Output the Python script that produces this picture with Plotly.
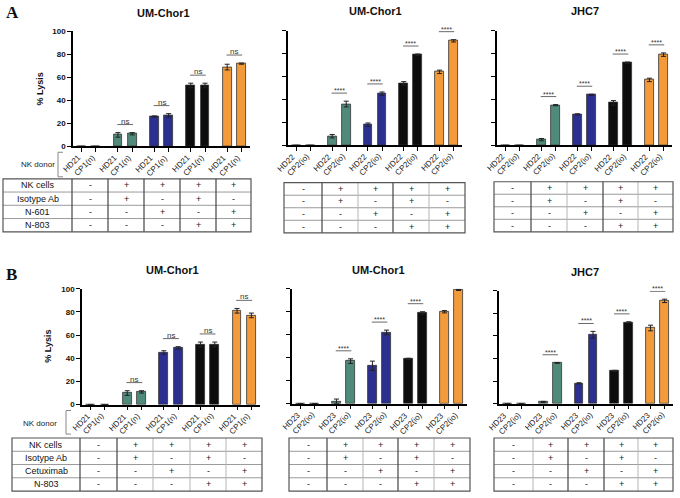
import plotly.graph_objects as go

W, H = 680, 498

# ---------------- data ----------------
pair_colors = ['#8c8c8c', '#4f8a7b', '#2b2f8f', '#0d0d0d', '#f39a3b']

a1_title = 'UM-Chor1'
a1_donors = ['HD21', 'CP1(n)']
a1_v1 = [0, 10, 26, 53, 69]
a1_v2 = [0, 11, 27, 53, 72]
a1_e1 = [0, 2, 0.5, 2, 2.5]
a1_e2 = [0, 1, 1.5, 2, 0.5]
a1_sig = ['', 'ns', 'ns', 'ns', 'ns']

a2_title = 'UM-Chor1'
a2_donors = ['HD22', 'CP2(io)']
a2_v1 = [0, 8, 18, 54, 64]
a2_v2 = [0, 36, 45, 79, 91]
a2_e1 = [0, 1.5, 1.5, 1.5, 1.5]
a2_e2 = [0, 2.5, 1.5, 0.5, 1]
a2_sig = ['', '****', '****', '****', '****']

a3_title = 'JHC7'
a3_donors = ['HD22', 'CP2(io)']
a3_v1 = [0, 5, 27, 37, 57]
a3_v2 = [0, 35, 44, 72, 79]
a3_e1 = [0, 1, 0.5, 2, 1.5]
a3_e2 = [0, 0.5, 0.5, 0.5, 1.5]
a3_sig = ['', '****', '****', '****', '****']

b1_title = 'UM-Chor1'
b1_donors = ['HD21', 'CP1(n)']
b1_v1 = [0, 10, 45, 52, 81]
b1_v2 = [0, 11, 49, 52, 77]
b1_e1 = [0, 2, 1.5, 2, 2]
b1_e2 = [0, 1, 1, 2, 2]
b1_sig = ['', 'ns', 'ns', 'ns', 'ns']

b2_title = 'UM-Chor1'
b2_donors = ['HD23', 'CP2(io)']
b2_v1 = [0, 2, 33, 39, 80]
b2_v2 = [0, 37, 62, 79, 99]
b2_e1 = [0, 2, 4, 0.5, 1]
b2_e2 = [0, 2, 2, 1, 0.5]
b2_sig = ['', '****', '****', '****', '****']

b3_title = 'JHC7'
b3_donors = ['HD23', 'CP2(io)']
b3_v1 = [0, 1.5, 18, 29, 67]
b3_v2 = [0, 36, 61, 72, 91]
b3_e1 = [0, 0.5, 0.5, 0.5, 2.5]
b3_e2 = [0, 0.3, 3, 0.5, 1.5]
b3_sig = ['', '****', '****', '****', '****']

table_a_rows = ['NK cells', 'Isotype Ab', 'N-601', 'N-803']
table_b_rows = ['NK cells', 'Isotype Ab', 'Cetuximab', 'N-803']
table_vals = [['-', '+', '+', '+', '+'],
              ['-', '+', '-', '+', '-'],
              ['-', '-', '+', '-', '+'],
              ['-', '-', '-', '+', '+']]

y_ticks = [0, 20, 40, 60, 80, 100]

# ---------------- layout geometry (pixels) ----------------
P = 2.55
XR = [-0.6, 4 * P + 1 + 0.6]

def fx(x):
    return x / W

def fy(y):
    return 1 - y / H

panels = [
    dict(t=a1_title, d=a1_donors, v1=a1_v1, v2=a1_v2, e1=a1_e1, e2=a1_e2, s=a1_sig,
         x0=73, x1=250, yt=28, yb=145, lab=True, txy=(163, 9),
         tab=dict(cols=[72, 108, 144, 180, 216, 251], top=178, bot=232, left=3, rows=table_a_rows,
                  vdark=[1, 1, 1, 1])),
    dict(t=a2_title, d=a2_donors, v1=a2_v1, v2=a2_v2, e1=a2_e1, e2=a2_e2, s=a2_sig,
         x0=288, x1=462, yt=27, yb=144, lab=False, txy=(375, 7),
         tab=dict(cols=[284, 322, 358, 393, 429, 465], top=182, bot=233, left=None, rows=None,
                  vdark=[1, 0, 1, 0])),
    dict(t=a3_title, d=a3_donors, v1=a3_v1, v2=a3_v2, e1=a3_e1, e2=a3_e2, s=a3_sig,
         x0=497, x1=672, yt=27, yb=144, lab=False, txy=(585, 7),
         tab=dict(cols=[494, 531, 567, 603, 638, 673], top=181, bot=232, left=None, rows=None,
                  vdark=[1, 0, 1, 0])),
    dict(t=b1_title, d=b1_donors, v1=b1_v1, v2=b1_v2, e1=b1_e1, e2=b1_e2, s=b1_sig,
         x0=82, x1=260, yt=290, yb=408, lab=True, txy=(172, 271),
         tab=dict(cols=[80, 117, 153, 190, 226, 262], top=442, bot=496, left=12, rows=table_b_rows,
                  vdark=[1, 0, 0, 0])),
    dict(t=b2_title, d=b2_donors, v1=b2_v1, v2=b2_v2, e1=b2_e1, e2=b2_e2, s=b2_sig,
         x0=292, x1=467, yt=290, yb=407, lab=False, txy=(378, 271),
         tab=dict(cols=[289, 327, 363, 398, 434, 470], top=442, bot=496, left=None, rows=None,
                  vdark=[1, 0, 1, 0])),
    dict(t=b3_title, d=b3_donors, v1=b3_v1, v2=b3_v2, e1=b3_e1, e2=b3_e2, s=b3_sig,
         x0=499, x1=673, yt=292, yb=407, lab=False, txy=(585, 273),
         tab=dict(cols=[494, 533, 568, 604, 638, 673], top=442, bot=496, left=None, rows=None,
                  vdark=[0, 1, 1, 0])),
]

FONT = 'Arial, Liberation Sans, sans-serif'
fig = go.Figure()
shapes = []
annos = []

for k, pn in enumerate(panels, start=1):
    xs, ys, es, cols = [], [], [], []
    for i in range(5):
        for j, (v, e) in enumerate(((pn['v1'][i], pn['e1'][i]), (pn['v2'][i], pn['e2'][i]))):
            xs.append(i * P + j)
            ys.append(v)
            es.append(e)
            cols.append(pair_colors[i])
    sfx = '' if k == 1 else str(k)
    fig.add_trace(go.Bar(
        x=xs, y=ys, width=0.62, xaxis='x' + sfx, yaxis='y' + sfx,
        marker=dict(color=cols, line=dict(color='#333333', width=0.8)),
        error_y=dict(type='data', array=es, visible=True, color='#222222', thickness=1, width=2.5),
        showlegend=False, hoverinfo='y'))

    fig.layout['xaxis' + sfx] = dict(
        domain=[fx(pn['x0']), fx(pn['x1'])], range=XR, anchor='y' + sfx,
        tickmode='array', tickvals=xs, showticklabels=False,
        showline=True, linecolor='black', linewidth=1.5, ticks='outside', ticklen=4,
        tickwidth=1, tickcolor='black', showgrid=False, zeroline=False, fixedrange=True)
    fig.layout['yaxis' + sfx] = dict(
        domain=[fy(pn['yb']), fy(pn['yt'])], range=[0, 100], anchor='x' + sfx,
        tickvals=y_ticks, showticklabels=pn['lab'],
        tickfont=dict(size=8, color='#111', family=FONT, weight='bold'),
        showline=True, linecolor='black', linewidth=1.5, ticks='outside', ticklen=4,
        tickwidth=1.2, tickcolor='black', showgrid=False, zeroline=False, fixedrange=True)

    # rotated category labels under each tick
    labels = pn['d'] * 5
    for xv, lab in zip(xs, labels):
        annos.append(dict(text=lab, x=xv, y=fy(pn['yb']), xref='x' + sfx, yref='paper',
                          showarrow=False, textangle=-45, xanchor='right', yanchor='top',
                          xshift=4, yshift=-4,
                          font=dict(size=8, family=FONT, color='#1a1a1a')))

    # title
    annos.append(dict(text='<b>' + pn['t'] + '</b>', x=fx(pn['txy'][0]), y=fy(pn['txy'][1]),
                      xref='paper', yref='paper', showarrow=False, xanchor='center', yanchor='middle',
                      font=dict(size=11, family=FONT, color='#111')))

    # significance
    for i in range(5):
        if not pn['s'][i]:
            continue
        top = max(pn['v1'][i] + pn['e1'][i], pn['v2'][i] + pn['e2'][i])
        yl = top + 7
        shapes.append(dict(type='line', xref='x' + sfx, yref='y' + sfx,
                           x0=i * P - 0.05, x1=i * P + 1.05, y0=yl, y1=yl,
                           line=dict(color='#444', width=0.8)))
        annos.append(dict(text=pn['s'][i], x=i * P + 0.5, y=yl, xref='x' + sfx, yref='y' + sfx,
                          showarrow=False, xanchor='center', yanchor='bottom', yshift=-3,
                          font=dict(size=8 if pn['s'][i] == 'ns' else 7, family=FONT, color='#333')))

    # table
    tb = pn['tab']
    c = tb['cols']
    left = tb['left'] if tb['left'] is not None else c[0]
    top, bot = tb['top'], tb['bot']
    rh = (bot - top) / 4
    for r in range(1, 4):
        yy = top + r * rh
        shapes.append(dict(type='line', xref='paper', yref='paper', x0=fx(left), x1=fx(c[-1]),
                           y0=fy(yy), y1=fy(yy), line=dict(color='#9a9a9a', width=1)))
    for ci in range(1, 5):
        dark = tb['vdark'][ci - 1]
        shapes.append(dict(type='line', xref='paper', yref='paper', x0=fx(c[ci]), x1=fx(c[ci]),
                           y0=fy(top), y1=fy(bot),
                           line=dict(color='#444' if dark else '#b5b5b5', width=1.2 if dark else 1)))
    if tb['left'] is not None:
        shapes.append(dict(type='line', xref='paper', yref='paper', x0=fx(c[0]), x1=fx(c[0]),
                           y0=fy(top), y1=fy(bot), line=dict(color='#444', width=1.2)))
    shapes.append(dict(type='rect', xref='paper', yref='paper', x0=fx(left), x1=fx(c[-1]),
                       y0=fy(bot), y1=fy(top), line=dict(color='#555', width=1.2)))
    for r in range(4):
        yc = top + (r + 0.5) * rh
        if tb['rows'] is not None:
            annos.append(dict(text=tb['rows'][r], x=fx((left + c[0]) / 2), y=fy(yc), xref='paper',
                              yref='paper', showarrow=False, xanchor='center', yanchor='middle',
                              font=dict(size=9, family=FONT, color='#111')))
        for ci in range(5):
            annos.append(dict(text=table_vals[r][ci], x=fx((c[ci] + c[ci + 1]) / 2), y=fy(yc),
                              xref='paper', yref='paper', showarrow=False, xanchor='center',
                              yanchor='middle', font=dict(size=9, family=FONT, color='#222')))

# y-axis titles
for (xx, yy) in [(40, 87), (48, 349)]:
    annos.append(dict(text='<b>% Lysis</b>', x=fx(xx), y=fy(yy), xref='paper', yref='paper',
                      showarrow=False, textangle=-90, xanchor='center', yanchor='middle',
                      font=dict(size=9, family=FONT, color='#111')))

# NK donor labels and brackets
for (tx, ty, bx, b0, b1) in [(38, 163, 58, 151, 176), (40, 427, 66, 414, 438)]:
    annos.append(dict(text='NK donor', x=fx(tx), y=fy(ty), xref='paper', yref='paper',
                      showarrow=False, xanchor='center', yanchor='middle',
                      font=dict(size=8, family=FONT, color='#222')))
    shapes.append(dict(type='path', xref='paper', yref='paper',
                       path='M {} {} L {} {} L {} {} L {} {}'.format(
                           fx(bx + 5), fy(b0), fx(bx), fy(b0), fx(bx), fy(b1), fx(bx + 5), fy(b1)),
                       line=dict(color='#888', width=1)))

# panel letters
for (lt, xx, yy) in [('A', 12, 9), ('B', 11, 275)]:
    annos.append(dict(text='<b>' + lt + '</b>', x=fx(xx), y=fy(yy), xref='paper', yref='paper',
                      showarrow=False, xanchor='center', yanchor='middle',
                      font=dict(size=17, family='Liberation Serif, Times New Roman, serif', color='#111')))

fig.update_layout(width=W, height=H, margin=dict(l=0, r=0, t=0, b=0),
                  paper_bgcolor='white', plot_bgcolor='white',
                  shapes=shapes, annotations=annos, bargap=0)

fig.write_html('out.html', config={'displayModeBar': False},
               post_script="document.body.style.margin='0';document.body.style.overflow='hidden';")
